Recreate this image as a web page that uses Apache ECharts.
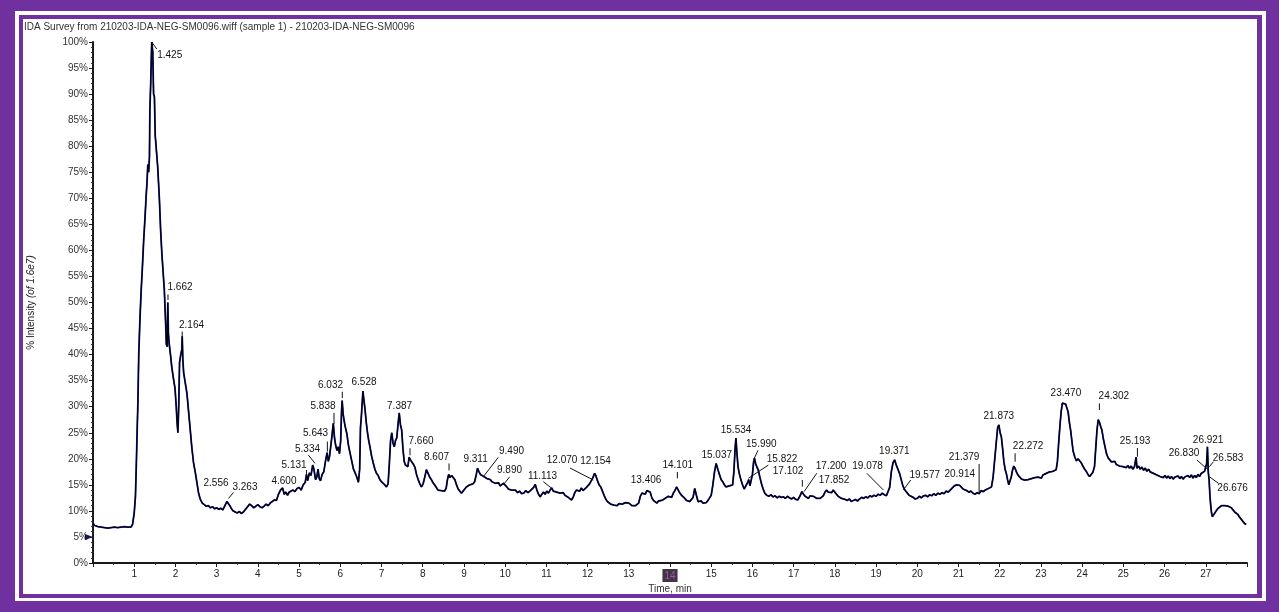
<!DOCTYPE html>
<html>
<head>
<meta charset="utf-8">
<title>IDA Survey TIC</title>
<script src="https://cdn.jsdelivr.net/npm/echarts@6/dist/echarts.min.js"></script>
<style>
  html, body { margin: 0; padding: 0; width: 1279px; height: 612px; overflow: hidden; background: #fff; }
  .box { position: absolute; }
</style>
</head>
<body>
<!-- double purple frame -->
<div class="box" style="left:0;top:0;width:1279px;height:612px;background:#7030a0"></div>
<div class="box" style="left:15px;top:11px;width:1251px;height:590px;background:#fff"></div>
<div class="box" style="left:19px;top:15px;width:1243px;height:583px;background:#7030a0"></div>
<div class="box" style="left:23px;top:19px;width:1234px;height:575px;background:#fff"></div>
<div id="chart" class="box" style="left:0;top:0;width:1279px;height:612px"></div>
<script>
// Total ion chromatogram, [time (min), % intensity of 1.6e7]
const traceFront = [
  [0,7.6],[0.04,7.2],[0.08,7.4],[0.12,7.0],[0.16,7.1],[0.2,6.9],[0.24,7.2],[0.28,6.8],[0.32,7.0],[0.36,6.7],
  [0.4,7.0],[0.44,6.8],[0.48,6.6],[0.52,6.9],[0.56,6.7],[0.6,6.8],[0.64,6.5],[0.68,6.9],[0.72,6.6],[0.76,7.0],
  [0.8,6.7],[0.84,6.9],[0.88,6.6],[0.92,6.9],[0.96,7.4],[1.0,9.6],[1.03,12.8],[1.05,18.5],[1.07,25],[1.09,31],
  [1.11,40],[1.14,47],[1.17,52.5],[1.2,57],[1.23,62],[1.26,66],[1.29,70.5],[1.31,73],[1.33,76.5],[1.35,75],
  [1.37,78],[1.38,87],[1.4,92],[1.425,100],[1.45,98],[1.47,90],[1.49,89.5],[1.51,82],[1.54,79],[1.57,76],
  [1.61,70],[1.64,64],[1.67,59.5],[1.7,56],[1.73,52.5],[1.76,46.5],[1.78,42],[1.8,41.5],[1.815,50],[1.83,44],
  [1.85,42],[1.88,40],[1.91,37.7],[1.95,35.5],[1.99,33.5],[2.02,30],[2.04,27],[2.06,25],[2.08,30],[2.1,38.5],
  [2.13,40],[2.155,41],[2.165,43.5],[2.18,39],[2.2,36.5],[2.24,34.5],[2.28,32.5],[2.32,29],[2.36,25.5],[2.4,22],
  [2.44,19.2],[2.48,17.5],[2.52,15.5],[2.56,13.5]
];
const traceEarly = [
  [2.6,12.3],[2.65,11.5],[2.7,11.2],[2.75,10.9],[2.8,11.0],[2.85,10.6],[2.9,10.8],[2.95,10.4],[3.0,10.6],[3.05,10.3],
  [3.1,10.5],[3.15,10.2],[3.2,11.0],[3.25,11.8],[3.28,12.0],[3.32,11.0],[3.36,10.4],[3.4,10.0],[3.45,9.8],[3.5,9.6],
  [3.55,9.9],[3.6,9.5],[3.65,9.8],[3.7,10.3],[3.75,10.8],[3.8,11.3],[3.85,11.0],[3.9,10.6],[3.95,10.9],[4.0,11.2],
  [4.05,10.8],[4.1,10.6],[4.15,10.9],[4.2,11.3],[4.25,11.0],[4.3,11.5],[4.35,11.8],[4.4,12.1],[4.45,12.0],[4.5,13.2],
  [4.55,14.0],[4.6,14.4],[4.64,13.2],[4.68,13.6],[4.72,13.0],[4.76,13.6],[4.8,13.4],[4.85,14.0],[4.9,13.7],[4.95,14.3],
  [5.0,14.5],[5.05,14.0],[5.1,15.0],[5.15,15.5],[5.18,17.0],[5.21,15.8],[5.25,17.3],[5.29,16.8],[5.33,18.8],[5.36,18.0],
  [5.4,16.0],[5.43,16.5],[5.46,18.0],[5.49,16.2],[5.52,15.8],[5.56,17.0],[5.6,17.5],[5.64,19.5],[5.68,21.2],[5.71,19.5],
  [5.74,20.5],[5.77,22.5],[5.8,24.5],[5.83,26.8],[5.86,24.0],[5.89,22.5],[5.92,21.6],[5.95,22.3],[5.98,21.0],[6.01,23.5],
  [6.03,29.0],[6.045,31.2],[6.07,28.5],[6.1,27.0],[6.13,25.8],[6.16,24.8],[6.2,22.5],[6.24,21.0],[6.28,19.5],[6.32,18.0],
  [6.36,17.3],[6.4,16.5],[6.44,15.5],[6.47,18.0],[6.49,26.0],[6.51,28.0],[6.53,30.5],[6.55,33.0],[6.57,31.5],[6.6,29.5],
  [6.63,27.0],[6.66,25.0],[6.69,23.5],[6.72,22.3],[6.76,20.5],[6.8,19.2],[6.84,18.0],[6.88,17.2],[6.92,16.8],[6.96,16.0],
  [7.0,15.6],[7.04,15.4],[7.08,15.0],[7.12,14.6],[7.16,15.2],[7.19,19.0],[7.22,23.5],[7.25,25.0],[7.28,23.0],[7.31,22.3],
  [7.34,23.5],[7.37,24.0],[7.4,26.5],[7.43,28.8],[7.46,26.5],[7.49,25.5],[7.52,22.0],[7.55,19.5],[7.58,18.8],[7.61,19.0],
  [7.64,18.5],[7.67,20.3],[7.7,19.8],[7.73,20.0],[7.77,19.0],[7.81,18.4],[7.85,17.0],[7.89,16.0],[7.93,15.2],[7.97,14.6],
  [8.01,15.2],[8.05,16.5],[8.09,17.9],[8.13,17.2],[8.17,16.5],[8.21,16.0],[8.25,15.4],[8.29,15.0],[8.33,14.5],[8.37,14.0],
  [8.41,13.7],[8.45,13.9],[8.49,14.2],[8.53,13.8],[8.57,14.4],[8.6,16.0],[8.63,17.0],[8.66,16.4],[8.7,16.8],[8.74,16.6],
  [8.78,16.0],[8.82,15.0],[8.86,14.2],[8.9,13.8],[8.94,13.4],[8.98,13.8]
];
const traceMid = [
  [9.02,14.2],[9.06,14.6],[9.1,14.4],[9.14,15.0],[9.18,14.8],[9.22,15.2],[9.26,15.6],[9.3,17.0],[9.33,18.2],[9.36,17.6],
  [9.4,17.0],[9.44,17.3],[9.48,16.6],[9.52,16.9],[9.56,16.2],[9.6,16.5],[9.64,16.0],[9.68,15.6],[9.72,15.9],[9.76,15.3],
  [9.8,15.0],[9.84,15.4],[9.88,14.8],[9.92,15.1],[9.96,15.3],[10.0,15.0],[10.04,14.6],[10.08,14.2],[10.12,14.5],[10.16,14.0],
  [10.2,13.7],[10.25,14.0],[10.3,13.5],[10.35,13.8],[10.4,13.3],[10.45,13.4],[10.5,13.9],[10.55,13.5],[10.6,13.8],[10.65,14.2],
  [10.7,14.6],[10.73,15.1],[10.77,14.0],[10.81,13.2],[10.85,12.7],[10.89,13.2],[10.93,13.6],[10.97,13.2],[11.01,13.8],[11.05,13.4],
  [11.09,14.0],[11.13,14.4],[11.17,13.8],[11.21,14.0],[11.25,13.6],[11.29,13.9],[11.33,13.4],[11.37,13.1],[11.41,13.5],[11.45,13.0],
  [11.49,13.2],[11.53,12.6],[11.57,12.8],[11.61,12.1],[11.65,12.6],[11.69,13.5],[11.73,14.0],[11.77,14.3],[11.81,13.8],[11.85,14.4],
  [11.89,13.9],[11.93,14.0],[11.97,14.5],[12.01,14.8],[12.05,15.2],[12.09,15.8],[12.13,16.4],[12.17,17.2],[12.2,16.8],[12.24,15.8],
  [12.28,15.0],[12.32,14.6],[12.36,13.8],[12.4,13.0],[12.44,12.3],[12.48,11.8],[12.52,11.6],[12.56,11.3],[12.6,11.5],[12.64,11.1],
  [12.68,11.3],[12.72,11.0],[12.76,11.4],[12.8,11.1],[12.84,11.3],[12.88,11.0],[12.92,11.6],[12.96,11.3],[13.0,11.5],[13.04,11.2],
  [13.08,11.0],[13.12,10.8],[13.16,11.0],[13.2,10.7],[13.24,11.5],[13.28,12.8],[13.32,13.4],[13.36,13.7],[13.4,13.2],[13.44,13.9],
  [13.48,14.2],[13.52,13.6],[13.56,12.5],[13.6,12.0],[13.64,11.8],[13.68,11.5],[13.72,11.9],[13.76,11.6],[13.8,12.0],[13.84,12.1],
  [13.88,12.4],[13.92,12.2],[13.96,12.8],[14.0,13.0],[14.04,12.6],[14.08,13.4],[14.12,13.9],[14.16,14.6],[14.2,14.0],[14.24,13.4],
  [14.28,13.0],[14.32,12.7],[14.36,12.4],[14.4,12.0],[14.44,12.2],[14.48,11.8],[14.52,11.9],[14.56,12.6],[14.6,14.3],[14.64,13.0],
  [14.68,11.8],[14.72,11.6],[14.76,11.9],[14.8,11.5],[14.84,11.8],[14.88,11.6],[14.92,12.0],[14.96,12.1],[15.0,13.0],[15.04,15.0],
  [15.08,17.5],[15.12,19.1],[15.16,18.0],[15.2,17.0],[15.24,16.0],[15.28,15.6],[15.32,15.0],[15.36,14.6],[15.4,14.3],[15.44,14.8],
  [15.48,14.5],[15.52,15.0],[15.55,17.5],[15.58,22.0],[15.6,24.0],[15.62,21.5],[15.65,18.5],[15.68,17.2],[15.72,16.0],[15.76,15.0],
  [15.8,14.2],[15.84,14.0],[15.88,15.4],[15.91,16.0],[15.94,14.8],[15.97,14.6]
];
const traceLate = [
  [16.0,17.0],[16.03,19.5],[16.05,20.1],[16.08,19.0],[16.11,18.4],[16.14,17.9],[16.18,16.5],[16.22,15.2],[16.26,14.2],[16.3,13.4],
  [16.35,13.0],[16.4,12.8],[16.45,13.1],[16.5,12.7],[16.55,12.9],[16.6,12.5],[16.65,12.8],[16.7,12.6],[16.75,12.7],[16.8,12.4],
  [16.85,12.8],[16.9,12.5],[16.95,12.3],[17.0,12.6],[17.05,12.2],[17.1,12.1],[17.15,12.8],[17.2,13.7],[17.24,13.2],[17.28,12.8],
  [17.32,12.7],[17.36,12.4],[17.4,12.9],[17.44,13.0],[17.48,12.8],[17.52,12.6],[17.56,12.4],[17.6,12.2],[17.64,12.4],[17.68,12.1],
  [17.72,12.9],[17.76,13.6],[17.8,14.0],[17.84,13.6],[17.88,13.8],[17.92,13.5],[17.96,14.0],[18.0,13.8],[18.04,13.2],[18.08,12.8],
  [18.12,12.6],[18.16,12.4],[18.2,12.5],[18.25,12.2],[18.3,12.0],[18.35,12.3],[18.4,11.8],[18.45,12.0],[18.5,12.2],[18.55,11.9],
  [18.6,12.3],[18.65,12.6],[18.7,12.4],[18.75,12.7],[18.8,12.5],[18.85,12.9],[18.9,12.7],[18.95,13.0],[19.0,12.8],[19.05,13.2],
  [19.1,13.0],[19.15,13.4],[19.2,13.1],[19.25,12.9],[19.29,12.7],[19.33,14.5],[19.37,17.5],[19.41,19.2],[19.45,19.8],[19.49,18.8],
  [19.53,18.0],[19.57,17.2],[19.61,16.0],[19.65,14.8],[19.7,14.0],[19.75,13.5],[19.8,13.0],[19.85,12.8],[19.9,12.6],[19.95,12.3],
  [20.0,12.4],[20.05,12.8],[20.1,12.5],[20.15,12.9],[20.2,13.0],[20.25,12.7],[20.3,13.1],[20.35,12.9],[20.4,13.3],[20.45,13.0],
  [20.5,13.4],[20.55,13.2],[20.6,13.5],[20.65,13.3],[20.7,13.8],[20.75,13.6],[20.8,14.0],[20.85,14.4],[20.9,14.8],[20.95,15.0],
  [20.99,15.3],[21.03,14.9],[21.07,14.6],[21.11,14.2],[21.15,14.3],[21.2,13.9],[21.25,13.6],[21.3,13.8],[21.35,13.4],[21.4,13.2],
  [21.45,13.5],[21.5,13.3],[21.55,13.9],[21.6,13.7],[21.65,14.0],[21.7,14.2],[21.75,14.4],[21.8,14.6],[21.84,16.5],[21.88,20.0],
  [21.92,23.5],[21.95,26.0],[21.98,26.5]
];
const traceEnd = [
  [22.01,25.0],[22.04,24.2],[22.07,22.0],[22.1,19.5],[22.13,18.0],[22.16,17.2],[22.19,16.0],[22.22,15.0],[22.25,15.2],[22.28,16.5],
  [22.31,17.8],[22.34,18.6],[22.37,18.2],[22.41,17.4],[22.45,16.8],[22.49,16.6],[22.53,16.1],[22.57,15.8],[22.61,15.9],[22.65,15.6],
  [22.69,16.0],[22.73,15.8],[22.77,16.2],[22.81,16.0],[22.85,16.4],[22.89,16.1],[22.93,16.5],[22.97,16.6],[23.01,16.3],[23.05,16.9],
  [23.09,16.6],[23.13,17.2],[23.17,16.9],[23.21,17.5],[23.25,17.2],[23.29,17.6],[23.33,17.4],[23.37,17.9],[23.4,19.5],[23.43,23.0],
  [23.46,26.2],[23.49,29.0],[23.52,30.7],[23.56,31.0],[23.6,30.5],[23.63,30.7],[23.66,29.0],[23.69,27.0],[23.72,25.5],[23.75,23.5],
  [23.78,21.5],[23.82,20.4],[23.86,19.6],[23.9,20.0],[23.94,19.8],[23.98,19.2],[24.02,18.6],[24.06,18.0],[24.1,17.6],[24.14,17.0],
  [24.18,16.6],[24.22,16.9],[24.26,17.4],[24.3,18.5],[24.33,22.0],[24.36,25.5],[24.39,27.5],[24.42,27.0],[24.45,26.2],[24.48,25.5],
  [24.51,24.0],[24.55,22.5],[24.59,21.0],[24.63,20.2],[24.67,19.8],[24.71,19.4],[24.75,19.1],[24.79,19.5],[24.83,18.9],[24.87,19.2],
  [24.91,18.6],[24.95,18.9],[24.99,18.5],[25.03,18.8],[25.07,18.3],[25.11,18.7],[25.15,18.2],[25.19,18.6],[25.23,18.0],[25.27,18.5],
  [25.31,20.3],[25.33,18.2],[25.37,18.6],[25.41,18.0],[25.45,18.4],[25.49,17.8],[25.53,18.2],[25.57,17.6],[25.61,18.0],[25.65,17.5],
  [25.69,17.8],[25.73,17.2],[25.77,17.5],[25.81,16.9],[25.85,17.2],[25.89,16.6],[25.93,16.9],[25.97,16.4],[26.01,16.8],[26.05,16.3],
  [26.09,16.7],[26.13,16.2],[26.17,16.6],[26.21,16.1],[26.25,16.5],[26.29,16.3],[26.33,16.7],[26.37,16.2],[26.41,16.6],[26.45,16.1],
  [26.49,16.5],[26.53,16.2],[26.57,16.8],[26.61,16.4],[26.65,16.9],[26.69,16.3],[26.73,16.8],[26.77,16.4],[26.81,17.0],[26.85,16.6],
  [26.89,17.2],[26.93,17.0],[26.97,17.6],[27.0,17.9],[27.02,19.0],[27.04,22.3],[27.06,17.5],[27.08,16.0],[27.1,13.0],[27.12,11.0],
  [27.14,9.6],[27.16,8.9],[27.19,9.2],[27.22,9.6],[27.26,10.1],[27.3,10.5],[27.34,10.8],[27.38,11.0],[27.42,11.1],[27.46,11.0],
  [27.5,11.1],[27.54,10.9],[27.58,10.7],[27.62,10.6],[27.66,10.2],[27.7,9.8],[27.74,9.5],[27.78,9.3],[27.82,8.8],[27.86,8.4],
  [27.9,8.0],[27.94,7.6],[27.98,7.4]
];

// Peak retention times and the intensity where each tag sits
const peakTimes = [1.425, 1.662, 2.164, 2.556, 3.263, 4.600, 5.131, 5.334, 5.643, 5.838, 6.032, 6.528, 7.387, 7.660, 8.607,
  9.311, 9.490, 9.890, 11.113, 12.070, 12.154, 13.406, 14.101, 15.037, 15.534, 15.822, 15.990, 17.102, 17.200, 17.852,
  19.078, 19.371, 19.577, 20.914, 21.379, 21.873, 22.272, 23.470, 24.302, 25.193, 26.583, 26.676, 26.830, 26.921];
const peakPcts = [100, 50, 42.5, 12.5, 12, 14.4, 16.5, 18.8, 21, 26.5, 31.2, 33, 28.8, 20.3, 17,
  18.2, 16.6, 15, 14.4, 16, 17.2, 14.2, 14.6, 19.1, 24, 16, 20.1, 13.7, 13.5, 14,
  13, 19.8, 14.5, 15, 13.5, 26.5, 18.6, 31, 27.5, 20.3, 18, 16.5, 17.5, 22.3];

// Tag placement: label centre offset (px) and optional leader segment (px) from the tag point
const tagLayout = [
  [18, 13, [0, 0, 5, 7]], [18.5, -15.5, [6.5, -8, 6.5, -2.5]], [9.3, -16.6, [0, -10, 0, -3]], [17.7, -14.9, null],
  [17.5, -13.5, [1, -2, 6, -8]], [1.4, -6.3, null], [-10.4, -12, [2, -7, 2, -1]], [-5.3, -16, [2.2, -1.7, -4.5, -10]],
  [-10, -20.6, [1.8, -12, 1.8, -2]], [-10.6, -18.9, [0.4, -12, 0.4, -1]], [-11.1, -15.4, [0.7, -8.7, 0.7, -2.4]],
  [2, -8.4, null], [2.1, -7, null], [12.3, -15.5, [1.3, -9, 1.3, -2]], [-11.2, -17.4, [1.3, -11, 1.3, -4]],
  [-1.2, -9.2, null], [27.4, -25.5, [-0.8, 0.2, 14.2, -19.2]], [8.9, -14.9, [2.7, 0, 9, -8]],
  [-8.5, -11.3, [-7.7, -6.3, 0.7, 0.3]], [-28.4, -19.6, [-20.4, -11.6, 2.9, 0.4]], [1.6, -11.7, null],
  [0.5, -8.5, null], [3.6, -21.2, [3.2, -15, 3.2, -8.6]], [4, -8.5, null], [2.8, -8, null],
  [37, -20.3, [3.3, -1.3, 23.3, -14.6]], [9.3, -14.3, [2.3, 0, 6, -8]], [-9.8, -19.9, [4.5, -11.6, 4.5, -5]],
  [29.2, -26, [2.2, -1, 14.9, -19.4]], [5.3, -10, null], [-11.7, -28.6, [-12.5, -22, 4.1, -5.3]], [3, -8.1, null],
  [24.9, -12.5, [3.5, 2.5, 10.9, -7.5]], [4.8, -10.9, null], [-10, -35.4, [5, -28.7, 5, 0]], [4.3, -8.2, null],
  [17.2, -20.1, [4.2, -12.8, 4.2, -4.4]], [5.6, -8.2, null], [19.3, -23.7, [4.8, -16.4, 4.8, -9.7]],
  [3.8, -15.5, [6.1, -9.2, 6.1, -0.5]], [39.5, -10.9, [24.8, -7.5, 20.8, -2.5]], [40.2, 11.3, [26, 6.3, 17, -0.3]],
  [-14.8, -18.5, [-1.9, -11.8, 8.7, -2.5]], [5.6, -6.8, null]
];

const yTickStep = 5;
const xTickStep = 1;
const cursorTick = 14;
const titleText = 'IDA Survey from 210203-IDA-NEG-SM0096.wiff (sample 1) - 210203-IDA-NEG-SM0096';

const trace = traceFront.concat(traceEarly, traceMid, traceLate, traceEnd);
const tagData = peakTimes.map((t, i) => [t, peakPcts[i]]);
const FONT = '"Liberation Sans", Arial, sans-serif';

const chart = echarts.init(document.getElementById('chart'));
chart.setOption({
  animation: false,
  backgroundColor: 'transparent',
  title: {
    text: titleText,
    left: 24, top: 22, padding: 0,
    textStyle: { fontSize: 10, fontWeight: 'normal', color: '#333', fontFamily: FONT }
  },
  grid: { left: 93, right: 32, top: 42, bottom: 49, containLabel: false },
  xAxis: {
    type: 'value', min: 0, max: 28, interval: xTickStep,
    name: 'Time, min', nameLocation: 'middle', nameGap: 21, nameMoveOverlap: false,
    nameTextStyle: { fontSize: 10, color: '#333', fontFamily: FONT, verticalAlign: 'top' },
    axisLine: { onZero: false, lineStyle: { color: '#1a1a1a', width: 2 } },
    axisTick: { length: 4, lineStyle: { color: '#1a1a1a', width: 1 } },
    minorTick: { show: true, splitNumber: 2, length: 2, lineStyle: { color: '#333' } },
    splitLine: { show: false },
    axisLabel: {
      margin: 6, fontSize: 10, color: '#222', fontFamily: FONT,
      formatter: v => (v === 0 || v === 28) ? '' : (v === cursorTick ? '{hl|' + v + '}' : String(v)),
      rich: { hl: { backgroundColor: '#3b3b3b', color: '#c040d0', padding: [2, 2, 1, 2], fontSize: 10, fontFamily: FONT } }
    }
  },
  yAxis: {
    type: 'value', min: 0, max: 100, interval: yTickStep,
    name: '{a|% Intensity }{b|(of 1.6e7)}', nameLocation: 'middle', nameGap: 57, nameRotate: 90,
    nameTextStyle: {
      fontSize: 10, color: '#222', fontFamily: FONT,
      rich: { a: { fontSize: 10, color: '#222', fontFamily: FONT }, b: { fontSize: 10, color: '#222', fontStyle: 'italic', fontFamily: FONT } }
    },
    axisLine: { show: true, lineStyle: { color: '#1a1a1a', width: 2 } },
    axisTick: { show: true, length: 4, lineStyle: { color: '#1a1a1a' } },
    minorTick: { show: true, splitNumber: 5, length: 2, lineStyle: { color: '#333' } },
    splitLine: { show: false },
    axisLabel: { formatter: '{value}%', margin: 5, fontSize: 10, color: '#333', fontFamily: FONT }
  },
  series: [
    {
      type: 'line', data: trace, showSymbol: false, symbol: 'none', silent: true, z: 2,
      lineStyle: { color: '#2222c8', width: 1.8 }
    },
    {
      type: 'line', data: trace, showSymbol: false, symbol: 'none', silent: true, z: 3,
      lineStyle: { color: '#000', width: 1.3 },
      markPoint: {
        silent: true, label: { show: false },
        data: [{ coord: [0, 5], symbol: 'triangle', symbolSize: [6, 8], symbolRotate: -90, symbolOffset: [-4, 0], itemStyle: { color: '#15154a' } }]
      }
    },
    {
      type: 'custom', data: tagData, z: 4, silent: true, clip: false,
      renderItem: (params, api) => {
        const i = params.dataIndex;
        const p = api.coord([api.value(0), api.value(1)]);
        const L = tagLayout[i];
        const kids = [];
        if (L[2]) {
          kids.push({
            type: 'line',
            shape: { x1: p[0] + L[2][0], y1: p[1] + L[2][1], x2: p[0] + L[2][2], y2: p[1] + L[2][3] },
            style: { stroke: '#111', lineWidth: 1 }
          });
        }
        kids.push({
          type: 'text', x: p[0] + L[0], y: p[1] + L[1],
          style: { text: peakTimes[i].toFixed(3), fill: '#111', font: '10px ' + FONT, align: 'center', verticalAlign: 'middle' }
        });
        return { type: 'group', children: kids };
      }
    }
  ]
});
</script>
</body>
</html>
